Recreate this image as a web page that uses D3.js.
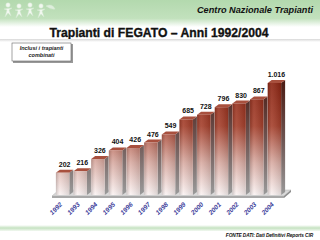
<!DOCTYPE html>
<html><head><meta charset="utf-8">
<script src="https://cdn.jsdelivr.net/npm/d3@7/dist/d3.min.js"></script>
<style>html,body{margin:0;padding:0;background:#fff;}svg{display:block;}</style>
</head><body>
<script>
const years = ["1992","1993","1994","1995","1996","1997","1998","1999","2000","2001","2002","2003","2004"];
const values = [202,216,326,404,426,476,549,685,728,796,830,867,1016];
const valueLabels = ["202","216","326","404","426","476","549","685","728","796","830","867","1.016"];

const W=320,H=240;
const svg=d3.select("body").append("svg").attr("width",W).attr("height",H)
  .style("font-family","'Liberation Sans', Arial, sans-serif");
const defs=svg.append("defs");

// header gradient
const hg=defs.append("linearGradient").attr("id","hdr").attr("x1",0).attr("y1",0).attr("x2",0).attr("y2",1);
hg.append("stop").attr("offset","0%").attr("stop-color","#b3d9ae");
hg.append("stop").attr("offset","80%").attr("stop-color","#c2e1bd");
hg.append("stop").attr("offset","100%").attr("stop-color","#e3f1e1");
svg.append("rect").attr("x",0).attr("y",0).attr("width",W).attr("height",23).attr("fill","url(#hdr)");
const hg2=defs.append("linearGradient").attr("id","hdr2").attr("x1",0).attr("y1",0).attr("x2",0).attr("y2",1);
hg2.append("stop").attr("offset","0%").attr("stop-color","#e3f1e1");
hg2.append("stop").attr("offset","100%").attr("stop-color","#ffffff");
svg.append("rect").attr("x",0).attr("y",23).attr("width",W).attr("height",4).attr("fill","url(#hdr2)");

// logo: simple pale figures
const logo=svg.append("g").attr("fill","#f2f8f0").attr("stroke","#d5e9d2").attr("stroke-width",0.5);
[[8,0],[19,1],[30,0],[41,1]].forEach(([x,o])=>{
  logo.append("circle").attr("cx",x).attr("cy",5+o).attr("r",2.2);
  logo.append("path").attr("d",`M${x-4},${9+o} L${x+4},${8+o} L${x+1},${10+o} L${x+3},${16+o} L${x},${13+o} L${x-3},${17+o} L${x-1},${10+o} Z`);
});
logo.append("path").attr("d","M46,6 q6,-3 9,3 q-4,1 -9,-3 Z").attr("fill","#dfeedd");

svg.append("text").attr("x",313).attr("y",13).attr("text-anchor","end")
  .attr("font-size",9).attr("font-weight","bold").attr("font-style","italic").attr("fill","#111")
  .attr("textLength",116).attr("lengthAdjust","spacingAndGlyphs").text("Centro Nazionale Trapianti");

// title
svg.append("text").attr("x",159).attr("y",37).attr("text-anchor","middle")
  .attr("font-size",13).attr("font-weight","bold").attr("fill","#111").attr("stroke","#111").attr("stroke-width",0.35)
  .attr("textLength",219).attr("lengthAdjust","spacingAndGlyphs").text("Trapianti di FEGATO – Anni 1992/2004");
const tl=defs.append("linearGradient").attr("id","tl").attr("x1",0).attr("y1",0).attr("x2",0).attr("y2",1);
tl.append("stop").attr("offset","0%").attr("stop-color","#d8d8d8");
tl.append("stop").attr("offset","100%").attr("stop-color","#ffffff");
svg.append("rect").attr("x",0).attr("y",39).attr("width",W).attr("height",3).attr("fill","url(#tl)");

// legend box
svg.append("rect").attr("x",13).attr("y",44).attr("width",60).attr("height",19).attr("fill","#999");
svg.append("rect").attr("x",12).attr("y",43).attr("width",59).attr("height",18).attr("fill","#fff").attr("stroke","#666").attr("stroke-width",0.6);
svg.append("text").attr("x",41.5).attr("y",50).attr("text-anchor","middle").attr("font-size",5.5)
  .attr("font-weight","bold").attr("font-style","italic").attr("fill","#222").text("Inclusi i trapianti");
svg.append("text").attr("x",41.5).attr("y",57).attr("text-anchor","middle").attr("font-size",5.5)
  .attr("font-weight","bold").attr("font-style","italic").attr("fill","#222").text("combinati");

// scales
const x=d3.scaleBand().domain(years).range([55,282]).paddingInner(0.24).paddingOuter(0.05);
const y=d3.scaleLinear().domain([0,1016]).range([195,83]);
const dx=4, dy=-3;

// gradients for bars
const fg=defs.append("linearGradient").attr("id","front").attr("x1",0).attr("x2",0).attr("gradientUnits","userSpaceOnUse")
  .attr("y1",80).attr("y2",195);
fg.append("stop").attr("offset","0%").attr("stop-color","#8a2210");
fg.append("stop").attr("offset","40%").attr("stop-color","#a5402c");
fg.append("stop").attr("offset","72%").attr("stop-color","#d9aca3");
fg.append("stop").attr("offset","100%").attr("stop-color","#fbf3f3");
const sg=defs.append("linearGradient").attr("id","side").attr("x1",0).attr("x2",0).attr("gradientUnits","userSpaceOnUse")
  .attr("y1",80).attr("y2",195);
sg.append("stop").attr("offset","0%").attr("stop-color","#4a1a12");
sg.append("stop").attr("offset","50%").attr("stop-color","#6d5350");
sg.append("stop").attr("offset","100%").attr("stop-color","#9a9a9a");
const hl=defs.append("linearGradient").attr("id","hl").attr("x1",0).attr("x2",1).attr("y1",0).attr("y2",0);
hl.append("stop").attr("offset","0%").attr("stop-color","#000").attr("stop-opacity",0.18);
hl.append("stop").attr("offset","30%").attr("stop-color","#fff").attr("stop-opacity",0.1);
hl.append("stop").attr("offset","100%").attr("stop-color","#000").attr("stop-opacity",0.12);

// floor
const fx0=x.range()[0]-3, fx1=x.range()[1]+2, fy=196;
svg.append("path").attr("d",`M${fx0},${fy} L${fx1},${fy} L${fx1+dx+3},${fy+dy-3} L${fx0+dx+3},${fy+dy-3} Z`).attr("fill","#d9d9d9").attr("stroke","#b0b0b0").attr("stroke-width",0.5);
svg.append("path").attr("d",`M${fx0},${fy} L${fx1},${fy} L${fx1},${fy+2} L${fx0},${fy+2} Z`).attr("fill","#a8a8a8");
svg.append("path").attr("d",`M${fx1},${fy} L${fx1+dx+3},${fy+dy-3} L${fx1+dx+3},${fy+dy-1} L${fx1},${fy+2} Z`).attr("fill","#8c8c8c");

// bars
const bars=svg.append("g").selectAll("g").data(years.map((yr,i)=>({yr,v:values[i],l:valueLabels[i]}))).join("g");
bars.append("path").attr("fill","url(#side)")
  .attr("d",d=>{const x1=x(d.yr)+x.bandwidth(),t=y(d.v),b=y(0);return `M${x1},${t} L${x1+dx},${t+dy} L${x1+dx},${b+dy} L${x1},${b} Z`;});
bars.append("path").attr("fill","#a8503e")
  .attr("d",d=>{const x0=x(d.yr),x1=x0+x.bandwidth(),t=y(d.v);return `M${x0},${t} L${x0+dx},${t+dy} L${x1+dx},${t+dy} L${x1},${t} Z`;});
bars.append("rect").attr("x",d=>x(d.yr)).attr("y",d=>y(d.v)).attr("width",x.bandwidth()).attr("height",d=>y(0)-y(d.v)).attr("fill","url(#front)");
bars.append("rect").attr("x",d=>x(d.yr)).attr("y",d=>y(d.v)).attr("width",x.bandwidth()).attr("height",d=>y(0)-y(d.v)).attr("fill","url(#hl)");
bars.append("text").attr("x",d=>x(d.yr)+x.bandwidth()/2+2).attr("y",d=>y(d.v)-6)
  .attr("text-anchor","middle").attr("font-size",7).attr("font-weight","bold").attr("fill","#111").text(d=>d.l);

// axis
const ax=svg.append("g").attr("transform","translate(0,200)")
  .call(d3.axisBottom(x).tickSize(0).tickPadding(0));
ax.select(".domain").remove();
ax.selectAll("text").attr("font-family","'Liberation Sans', Arial, sans-serif")
  .attr("font-size",6.5).attr("font-weight","bold").attr("font-style","italic").attr("fill","#3b3b99")
  .attr("text-anchor","end").attr("dy",0).attr("transform","translate(0,5) rotate(-45)");

// bottom band
const bb=defs.append("linearGradient").attr("id","bb").attr("x1",0).attr("x2",0).attr("y1",0).attr("y2",1);
bb.append("stop").attr("offset","0%").attr("stop-color","#ffffff");
bb.append("stop").attr("offset","50%").attr("stop-color","#c5e2c1");
bb.append("stop").attr("offset","100%").attr("stop-color","#f2f8f1");
svg.append("rect").attr("x",0).attr("y",225).attr("width",W).attr("height",6).attr("fill","url(#bb)");
svg.append("text").attr("x",313).attr("y",236.5).attr("text-anchor","end")
  .attr("font-size",4.8).attr("letter-spacing",-0.1).attr("font-weight","bold").attr("font-style","italic").attr("fill","#111")
  .text("FONTE DATI: Dati Definitivi Reports CIR");
</script>
</body></html>
